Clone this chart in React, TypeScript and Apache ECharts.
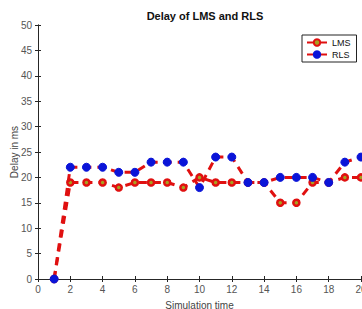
import React, { useEffect, useRef } from "react";
import * as echarts from "echarts";

const xs = [1, 2, 3, 4, 5, 6, 7, 8, 9, 10, 11, 12, 13, 14, 15, 16, 17, 18, 19, 20];
const lms = [0, 19, 19, 19, 18, 19, 19, 19, 18, 20, 19, 19, 19, 19, 15, 15, 19, 19, 20, 20];
const rls = [0, 22, 22, 22, 21, 21, 23, 23, 23, 18, 24, 24, 19, 19, 20, 20, 20, 19, 23, 24];
const xTicks = [0, 2, 4, 6, 8, 10, 12, 14, 16, 18, 20];
const yTicks = [0, 5, 10, 15, 20, 25, 30, 35, 40, 45, 50];

const FONT = "Liberation Sans, Arial, sans-serif";

export default function App() {
  const ref = useRef<HTMLDivElement>(null);
  useEffect(() => {
    document.body.style.margin = "0";
    const chart = echarts.init(ref.current!, null, { renderer: "svg" });
    const axisCommon = {
      axisLine: { show: true, lineStyle: { color: "#262626", width: 1 } },
      axisTick: { show: true, inside: true, length: 3, lineStyle: { color: "#262626" } },
      splitLine: { show: false },
    };
    chart.setOption({
      animation: false,
      backgroundColor: "#ffffff",
      textStyle: { fontFamily: FONT },
      title: {
        text: "Delay of LMS and RLS",
        left: 200,
        textAlign: "center",
        top: 5,
        textStyle: { fontSize: 11, fontWeight: "bold", color: "#111", fontFamily: FONT },
      },
      legend: {
        left: 302,
        top: 35,
        orient: "vertical",
        itemGap: 3,
        itemWidth: 20,
        itemHeight: 8,
        padding: [3, 6, 3, 4],
        borderColor: "#222",
        borderWidth: 1,
        backgroundColor: "#fff",
        textStyle: { fontSize: 9, color: "#111", fontFamily: FONT },
        data: ["LMS", "RLS"],
      },
      grid: { left: 38, top: 25, right: 1, bottom: 30, containLabel: false, outerBoundsMode: "none" },
      xAxis: [
        {
          type: "value",
          min: 0,
          max: 20,
          interval: 2,
          name: "Simulation time",
          nameLocation: "middle",
          nameGap: 21,
          nameMoveOverlap: false,
          nameTextStyle: { fontSize: 10, color: "#444", fontFamily: FONT },
          axisLabel: {
            fontSize: 10,
            color: "#555",
            margin: 5,
            formatter: (v: number) => (xTicks.includes(v) ? String(v) : ""),
          },
          ...axisCommon,
        },
        {
          type: "value",
          min: 0,
          max: 20,
          interval: 2,
          position: "top",
          axisLabel: { show: false },
          ...axisCommon,
        },
      ],
      yAxis: [
        {
          type: "value",
          min: 0,
          max: 50,
          interval: 5,
          name: "Delay in ms",
          nameLocation: "middle",
          nameGap: 19,
          nameMoveOverlap: false,
          nameTextStyle: { fontSize: 10, color: "#444", fontFamily: FONT },
          axisLabel: {
            fontSize: 10,
            color: "#555",
            margin: 6,
            formatter: (v: number) => (yTicks.includes(v) ? String(v) : ""),
          },
          ...axisCommon,
        },
        {
          type: "value",
          min: 0,
          max: 50,
          interval: 5,
          position: "right",
          axisLabel: { show: false },
          ...axisCommon,
        },
      ],
      series: [
        {
          name: "LMS",
          type: "line",
          data: xs.map((x, i) => [x, lms[i]]),
          symbol: "circle",
          symbolSize: 6,
          lineStyle: { color: "#e01010", width: 3, type: [8, 6] },
          itemStyle: { color: "#a8a020", borderColor: "#e01010", borderWidth: 2.5 },
          z: 2,
        },
        {
          name: "RLS",
          type: "line",
          data: xs.map((x, i) => [x, rls[i]]),
          symbol: "circle",
          symbolSize: 8,
          lineStyle: { color: "#e01010", width: 3, type: [8, 6] },
          itemStyle: { color: "#0a14d8", borderColor: "#0a14d8", borderWidth: 1 },
          z: 3,
        },
      ],
    });
    return () => chart.dispose();
  }, []);
  return <div ref={ref} style={{ width: 362, height: 309 }} />;
}
